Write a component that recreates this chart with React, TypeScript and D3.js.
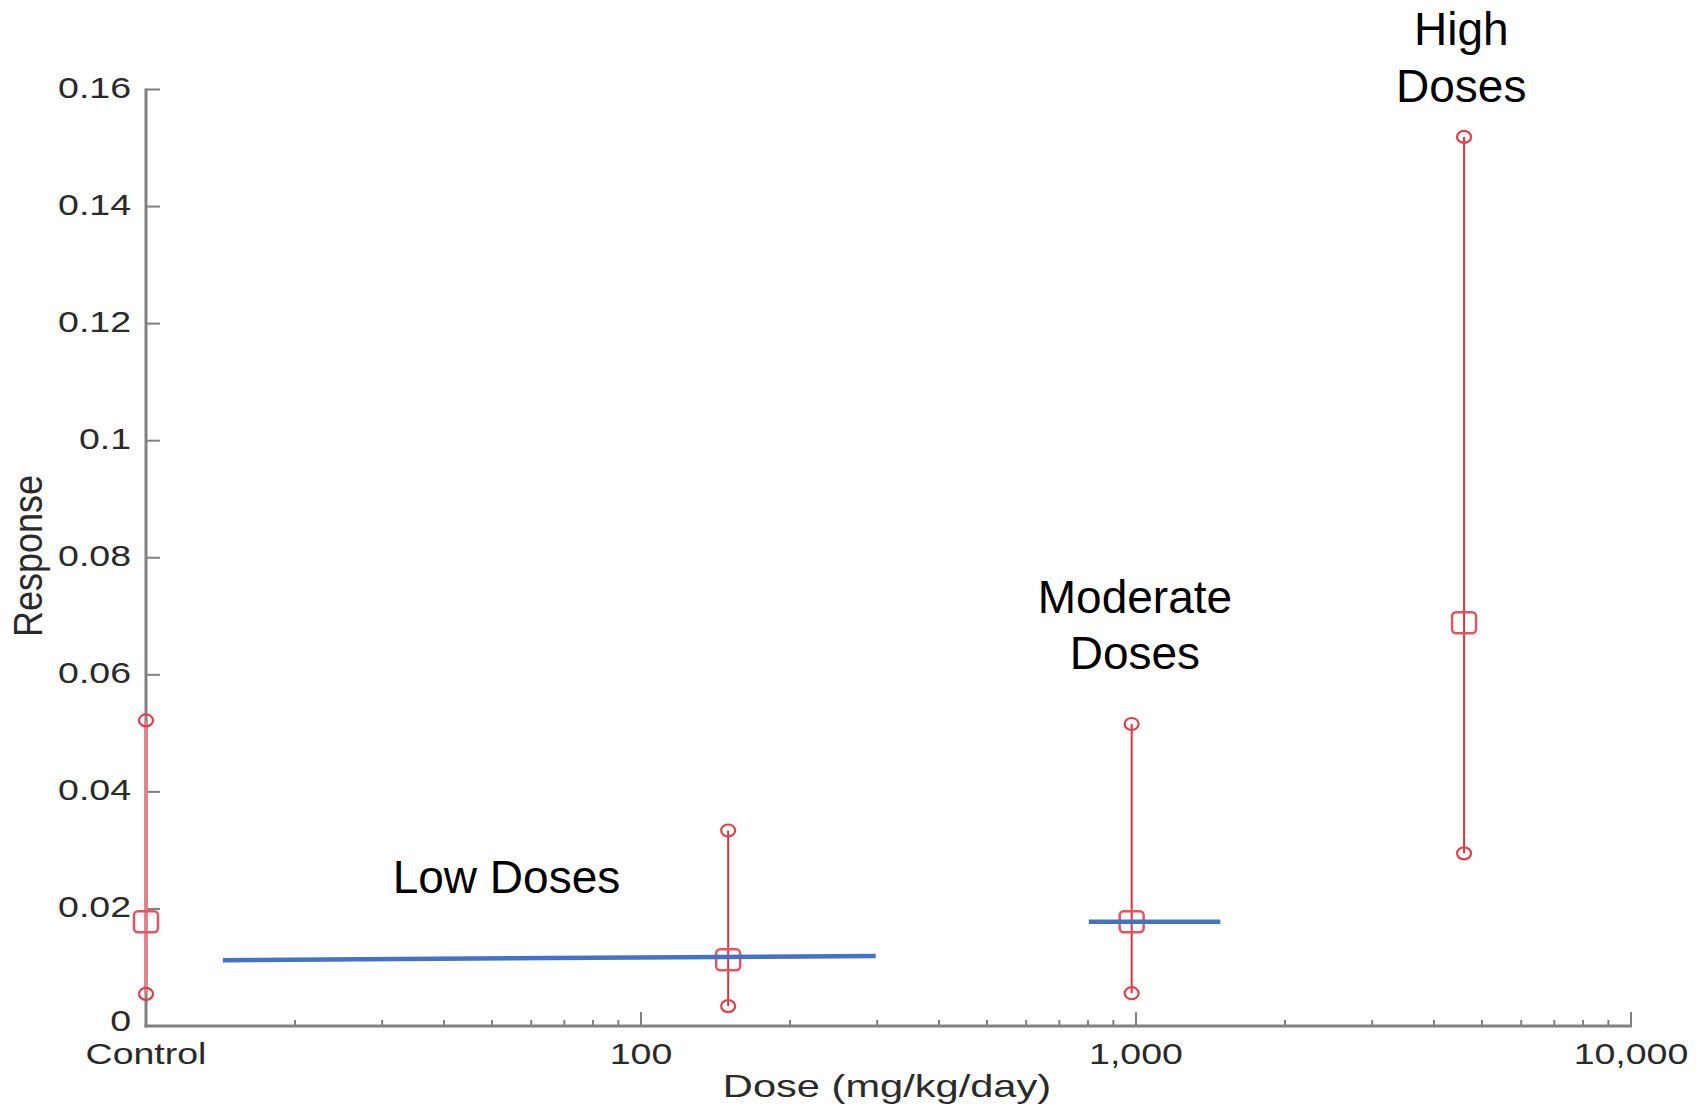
import React, { useEffect, useRef } from "react";
import * as d3 from "d3";

// dose groups (control is drawn at the left end of the log axis)
const doses = [10, 150, 980, 4600];
const means = [0.0178, 0.0113, 0.0178, 0.0689];
const lowers = [0.0055, 0.0034, 0.0056, 0.0295];
const uppers = [0.0522, 0.0334, 0.0516, 0.1519];

// blue fitted segments: [dose start, dose end], [resp start, resp end]
const segDoses = [[14.3, 298], [803, 1480]];
const segResp = [[0.01125, 0.01196], [0.0178, 0.0178]];

const yTicks = [0, 0.02, 0.04, 0.06, 0.08, 0.1, 0.12, 0.14, 0.16];
const yTickLabels = ["0", "0.02", "0.04", "0.06", "0.08", "0.1", "0.12", "0.14", "0.16"];
const xTicks = [10, 100, 1000, 10000];
const xTickLabels = ["Control", "100", "1,000", "10,000"];

// annotation lines: anchor dose, baseline response, text-anchor
const noteLines = ["Low Doses", "Moderate", "Doses", "High", "Doses"];
const noteDoses = [31.5, 995, 995, 4540, 4540];
const noteResp = [0.0227, 0.0706, 0.0610, 0.1676, 0.1578];
const noteAnchor = ["start", "middle", "middle", "middle", "middle"];

const W = 1707;
const H = 1109;
const FONT = "'Liberation Sans', Arial, Helvetica, sans-serif";

export default function App() {
  const ref = useRef<SVGSVGElement>(null);

  useEffect(() => {
    document.body.style.margin = "0";
    const svg = d3.select(ref.current);
    svg.selectAll("*").remove();

    const x = d3.scaleLog().domain([10, 10000]).range([146, 1631]);
    const y = d3.scaleLinear().domain([0, 0.16]).range([1026, 89.5]);
    const axisCol = "#808080";
    const textCol = "#2a2a2a";
    const sx = 1.25; // original figure text is stretched horizontally

    // axes
    svg.append("line")
      .attr("x1", x(10)).attr("x2", x(10))
      .attr("y1", y(0.16) - 1).attr("y2", y(0) + 1.5)
      .attr("stroke", axisCol).attr("stroke-width", 3);
    svg.append("line")
      .attr("x1", x(10) - 1.5).attr("x2", x(10000) + 1)
      .attr("y1", y(0)).attr("y2", y(0))
      .attr("stroke", axisCol).attr("stroke-width", 3);

    // y ticks + labels
    yTicks.forEach((t, i) => {
      if (t > 0) {
        svg.append("line")
          .attr("x1", x(10)).attr("x2", x(10) + 14)
          .attr("y1", y(t)).attr("y2", y(t))
          .attr("stroke", axisCol).attr("stroke-width", 2);
      }
      svg.append("text")
        .attr("transform", `translate(${x(10) - 15},${y(t) + (t === 0 ? 5 : 8)}) scale(${sx},1)`)
        .attr("text-anchor", "end")
        .style("font-family", FONT).style("font-size", "30px")
        .attr("fill", textCol)
        .text(yTickLabels[i]);
    });

    // x ticks (major/minor from log scale)
    x.ticks().forEach((t) => {
      if (t <= 10) return;
      const major = Math.abs(Math.log10(t) - Math.round(Math.log10(t))) < 1e-9;
      svg.append("line")
        .attr("x1", x(t)).attr("x2", x(t))
        .attr("y1", y(0)).attr("y2", y(0) - (major ? 14 : 6))
        .attr("stroke", axisCol).attr("stroke-width", 2);
    });
    xTicks.forEach((t, i) => {
      svg.append("text")
        .attr("transform", `translate(${x(t)},${1064}) scale(${sx},1)`)
        .attr("text-anchor", "middle")
        .style("font-family", FONT).style("font-size", "30px")
        .attr("fill", textCol)
        .text(xTickLabels[i]);
    });

    // axis titles
    svg.append("text")
      .attr("transform", `translate(887,1097) scale(1.3,1)`)
      .attr("text-anchor", "middle")
      .style("font-family", FONT).style("font-size", "32px")
      .attr("fill", textCol)
      .text("Dose (mg/kg/day)");
    svg.append("text")
      .attr("transform", `translate(42,556) rotate(-90) scale(1,1.15)`)
      .attr("text-anchor", "middle")
      .style("font-family", FONT).style("font-size", "36px")
      .attr("fill", textCol)
      .text("Response");

    // error bars
    const red = "#e2323c";
    doses.forEach((d, i) => {
      const ctrl = i === 0;
      svg.append("line")
        .attr("x1", x(d)).attr("x2", x(d))
        .attr("y1", y(uppers[i])).attr("y2", y(lowers[i]))
        .attr("stroke", ctrl ? "#ea7a84" : red)
        .attr("stroke-width", ctrl ? 3.5 : 2);
      [uppers[i], lowers[i]].forEach((v) => {
        svg.append("ellipse")
          .attr("cx", x(d)).attr("cy", y(v))
          .attr("rx", 7).attr("ry", 6)
          .attr("fill", "none")
          .attr("stroke", "#e0404c").attr("stroke-width", 2.2);
      });
      svg.append("rect")
        .attr("x", x(d) - 12).attr("y", y(means[i]) - 10.5)
        .attr("width", 24).attr("height", 21)
        .attr("rx", 4)
        .attr("fill", "none")
        .attr("stroke", "#e45560").attr("stroke-width", 2.5);
    });

    // blue segments
    const line = d3.line<[number, number]>()
      .x((p) => x(p[0]))
      .y((p) => y(p[1]));
    segDoses.forEach((sd, i) => {
      const pts: [number, number][] = sd.map((dd, j) => [dd, segResp[i][j]]);
      svg.append("path")
        .attr("d", line(pts))
        .attr("fill", "none")
        .attr("stroke", "#4472c4")
        .attr("stroke-width", 4.5);
    });

    // annotations
    noteLines.forEach((txt, i) => {
      svg.append("text")
        .attr("x", x(noteDoses[i]))
        .attr("y", y(noteResp[i]))
        .attr("text-anchor", noteAnchor[i])
        .style("font-family", FONT).style("font-size", "46px")
        .attr("fill", "#000")
        .text(txt);
    });
  }, []);

  return (
    <div className="doseChart">
      <svg ref={ref} width={W} height={H} style={{ display: "block", background: "#fff" }} />
    </div>
  );
}
